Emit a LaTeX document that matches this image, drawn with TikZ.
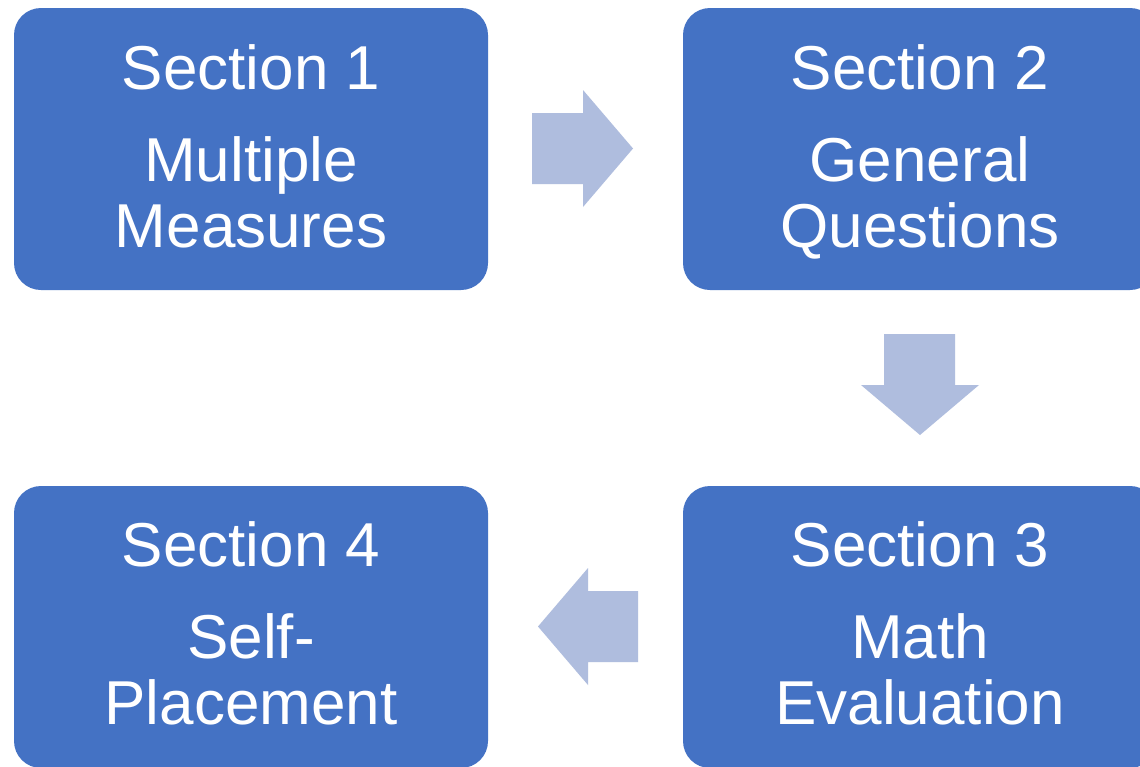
\documentclass[tikz,border=0pt]{standalone}
\usepackage{fontspec}
\setmainfont{Liberation Sans}
\definecolor{boxc}{RGB}{68,114,196}
\definecolor{arrowc}{RGB}{175,189,222}
\begin{document}
\begin{tikzpicture}[x=1pt,y=-1pt,
  box/.style={fill=boxc, draw=none, rounded corners=27pt, minimum width=474pt, minimum height=282pt, inner sep=0pt},
  lbl/.style={text=white, anchor=base, inner sep=0pt, font=\fontsize{62}{66}\selectfont},
  blockarrow/.style={fill=arrowc, draw=none}]
\useasboundingbox (0,0) rectangle (1140,766);
\clip (0,0) rectangle (1140,766);
\fill[white] (0,0) rectangle (1140,766);
% boxes
\node[box] (s1) at (251,149) {};
\node[box] (s2) at (920,149) {};
\node[box] (s3) at (920,627) {};
\node[box] (s4) at (251,627) {};
% texts
\node[lbl] (t1a) at ([yshift=-82pt]s1.north) {Section 1};
\node[lbl] (t1b) at ([yshift=-174pt]s1.north) {Multiple};
\node[lbl] (t1c) at ([yshift=-240pt]s1.north) {Measures};
\node[lbl] (t2a) at ([yshift=-82pt]s2.north) {Section 2};
\node[lbl] (t2b) at ([yshift=-174pt]s2.north) {General};
\node[lbl] (t2c) at ([yshift=-240pt]s2.north) {Questions};
\node[lbl] (t3a) at ([yshift=-81pt]s3.north) {Section 3};
\node[lbl] (t3b) at ([yshift=-173pt]s3.north) {Math};
\node[lbl] (t3c) at ([yshift=-239pt]s3.north) {Evaluation};
\node[lbl] (t4a) at ([yshift=-81pt]s4.north) {Section 4};
\node[lbl] (t4b) at ([yshift=-173pt]s4.north) {Self-};
\node[lbl] (t4c) at ([yshift=-239pt]s4.north) {Placement};
% block arrows
\fill[blockarrow] (532,113) -- (583,113) -- (583,90) -- (633,148.5) -- (583,207) -- (583,184) -- (532,184) -- cycle;
\fill[blockarrow] (884,334) -- (955,334) -- (955,385) -- (979,385) -- (920,435) -- (861,385) -- (884,385) -- cycle;
\fill[blockarrow] (638,591) -- (588,591) -- (588,568) -- (538,626.5) -- (588,685) -- (588,662) -- (638,662) -- cycle;
\end{tikzpicture}
\end{document}
